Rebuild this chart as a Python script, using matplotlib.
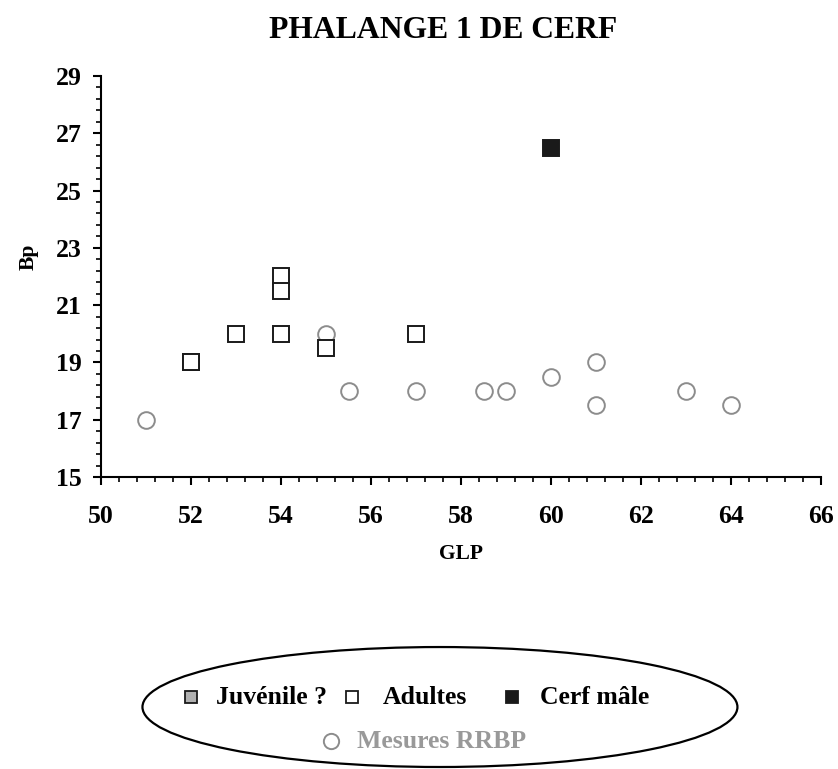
import matplotlib
matplotlib.use("Agg")
import matplotlib.pyplot as plt
import numpy as np
from matplotlib.patches import Ellipse
from matplotlib.lines import Line2D

plt.rcParams['font.family'] = ['Liberation Serif', 'DejaVu Serif']
plt.rcParams['font.weight'] = 'bold'

# RRBP reference measurements (GLP, Bp)
rrbp_glp = [51, 55, 55.5, 57, 58.5, 59, 60, 61, 61, 63, 64]
rrbp_bp = [17, 20, 18, 18, 18, 18, 18.5, 19, 17.5, 18, 17.5]

# site material
juv_glp = [52]
juv_bp = [19]
adult_glp = [52, 53, 54, 54, 54, 55, 57]
adult_bp = [19, 20, 20, 22, 21.5, 19.5, 20]
male_glp = [60]
male_bp = [26.5]

xticks = [50, 52, 54, 56, 58, 60, 62, 64, 66]
yticks = [15, 17, 19, 21, 23, 25, 27, 29]

GREY = '#8c8c8c'
DARK = '#1a1a1a'

fig = plt.figure(figsize=(8.38, 7.69), dpi=100)
ax = fig.add_axes([0.1205, 0.3797, 0.8595, 0.5215])

ax.plot(rrbp_glp, rrbp_bp, 'o', ms=12, mfc='white', mec=GREY, mew=1.4, ls='none', zorder=2)
ax.plot(juv_glp, juv_bp, 's', ms=12, mfc='#b0b0b0', mec=DARK, mew=1.4, ls='none', zorder=3)
ax.plot(adult_glp, adult_bp, 's', ms=12, mfc='white', mec=DARK, mew=1.4, ls='none', zorder=4)
ax.plot(male_glp, male_bp, 's', ms=12, mfc=DARK, mec=DARK, mew=1.4, ls='none', zorder=4)

ax.set_xlim(xticks[0], xticks[-1])
ax.set_ylim(yticks[0], yticks[-1])
ax.set_xticks(xticks)
ax.set_yticks(yticks)
ax.set_xticks(np.arange(xticks[0], xticks[-1] + 0.01, 0.4), minor=True)
ax.set_yticks(np.arange(yticks[0], yticks[-1] + 0.01, 0.4), minor=True)
ax.tick_params(which='major', direction='out', length=6, width=1.5, labelsize=18.5)
ax.tick_params(which='minor', direction='out', length=3.5, width=1.2)
for lab in ax.get_xticklabels() + ax.get_yticklabels():
    lab.set_fontweight('bold')
ax.xaxis.set_tick_params(pad=14)
ax.yaxis.set_tick_params(pad=8)
for s in ['top', 'right']:
    ax.spines[s].set_visible(False)
for s in ['left', 'bottom']:
    ax.spines[s].set_linewidth(1.5)

ax.set_xlabel('GLP', fontsize=15.5, fontweight='bold', labelpad=12)
ax.set_ylabel('Bp', fontsize=15.5, fontweight='bold')
ax.yaxis.set_label_coords(-0.086, 0.549)
fig.text(0.529, 0.96, 'PHALANGE 1 DE CERF', ha='center', va='center',
         fontsize=22.8, fontweight='bold')

# hand-made legend inside an ellipse
fig.add_artist(Ellipse((0.525, 0.0806), 0.71, 0.156, transform=fig.transFigure,
                       fill=False, ec='black', lw=1.6))

def leg_marker(x, y, **kw):
    fig.add_artist(Line2D([x / 838], [1 - y / 769], transform=fig.transFigure, ls='none', **kw))

def leg_text(x, y, s, color='black'):
    fig.text(x / 838, 1 - y / 769, s, ha='left', va='center', fontsize=18.5,
             fontweight='bold', color=color)

leg_marker(191, 697, marker='s', ms=9, mfc='#b0b0b0', mec=DARK, mew=1.3)
leg_text(216, 697, 'Juvénile ?')
leg_marker(352, 697, marker='s', ms=9, mfc='white', mec=DARK, mew=1.3)
leg_text(383, 697, 'Adultes')
leg_marker(512, 697, marker='s', ms=9, mfc=DARK, mec=DARK, mew=1.3)
leg_text(540, 697, 'Cerf mâle')
leg_marker(331, 741, marker='o', ms=11, mfc='white', mec=GREY, mew=1.4)
leg_text(357, 741, 'Mesures RRBP', color='#999999')

fig.savefig('out.png', dpi=100)
